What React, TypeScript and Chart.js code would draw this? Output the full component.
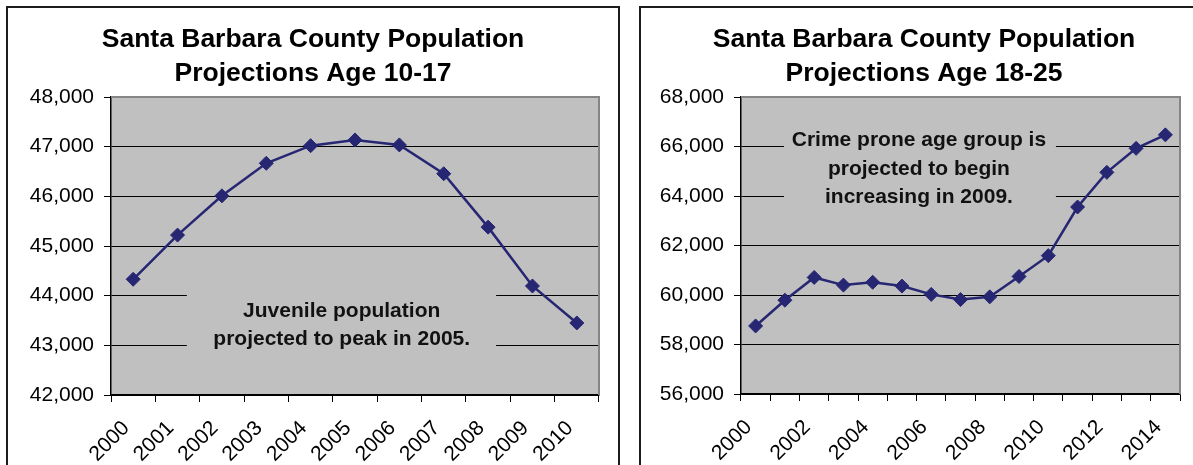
import { useEffect, useRef } from "react";
import { Chart, registerables } from "chart.js";

Chart.register(...registerables);

// ---- Data -----------------------------------------------------------------
const juvenileYears = ["2000", "2001", "2002", "2003", "2004", "2005", "2006", "2007", "2008", "2009", "2010"];
const juvenilePopulation = [44330, 45220, 46010, 46665, 47020, 47135, 47035, 46455, 45380, 44195, 43450];

const youngAdultYears = [
  "2000", "2001", "2002", "2003", "2004", "2005", "2006", "2007",
  "2008", "2009", "2010", "2011", "2012", "2013", "2014",
];
const youngAdultPopulation = [
  58750, 59790, 60710, 60400, 60515, 60360, 60025, 59815,
  59925, 60750, 61590, 63555, 64955, 65925, 66470,
];

const juvenileTitle = ["Santa Barbara County Population", "Projections Age 10-17"];
const youngAdultTitle = ["Santa Barbara County Population", "Projections Age 18-25"];

const juvenileNoteText = ["Juvenile population", "projected to peak in 2005."];
const youngAdultNoteText = ["Crime prone age group is", "projected to begin", "increasing in 2009."];

// ---- Styling ----------------------------------------------------------------
const FONT = "'Liberation Sans', Arial, sans-serif";
const LINE_COLOR = "#262673";
const PLOT_FILL = "#c0c0c0";

type Note = {
  lines: string[];
  center: number; // category index of the text centre
  lineValues: number[]; // y value of each text line
  from: number;
  to: number;
  top: number;
  bottom: number;
};

const juvenileNote: Note = {
  lines: juvenileNoteText,
  center: 4.7,
  lineValues: [43680, 43115],
  from: 1.21,
  to: 8.18,
  top: 44400,
  bottom: 42600,
};

const youngAdultNote: Note = {
  lines: youngAdultNoteText,
  center: 5.58,
  lineValues: [66250, 65100, 63960],
  from: 0.97,
  to: 10.26,
  top: 66800,
  bottom: 63300,
};

// Plot background, grey frame on top/right and the text box over the grid.
const plotDecor = {
  id: "plotDecor",
  beforeDraw(chart: any) {
    const { ctx, chartArea: a } = chart;
    ctx.save();
    ctx.fillStyle = PLOT_FILL;
    ctx.fillRect(a.left, a.top, a.right - a.left, a.bottom - a.top);
    ctx.restore();
  },
  beforeDatasetsDraw(chart: any, _args: any, opts: any) {
    const { ctx, chartArea: a, scales } = chart;
    const x = scales.x;
    const y = scales.y;
    const note: Note | undefined = opts.note;
    ctx.save();
    // grey frame
    ctx.strokeStyle = "#858585";
    ctx.lineWidth = 2;
    ctx.beginPath();
    ctx.moveTo(a.left, a.top);
    ctx.lineTo(a.right, a.top);
    ctx.lineTo(a.right, a.bottom);
    ctx.stroke();
    if (note) {
      const x0 = x.getPixelForValue(note.from);
      const x1 = x.getPixelForValue(note.to);
      const y0 = y.getPixelForValue(note.top);
      const y1 = y.getPixelForValue(note.bottom);
      ctx.fillStyle = PLOT_FILL;
      ctx.fillRect(x0, y0, x1 - x0, y1 - y0);
      ctx.fillStyle = "#111";
      ctx.font = `bold 21px ${FONT}`;
      ctx.textAlign = "center";
      ctx.textBaseline = "middle";
      const cx = x.getPixelForValue(note.center);
      note.lines.forEach((line, i) => {
        ctx.fillText(line, cx, y.getPixelForValue(note.lineValues[i]));
      });
    }
    ctx.restore();
  },
};

type ChartProps = {
  left: number;
  width: number;
  title: string[];
  labels: string[];
  values: number[];
  yMin: number;
  yMax: number;
  yStep: number;
  labelEvery: number;
  yAxisWidth: number;
  xAxisHeight: number;
  padRight: number;
  note: Note;
};

function PopulationChart(p: ChartProps) {
  const ref = useRef<HTMLCanvasElement | null>(null);

  useEffect(() => {
    if (!ref.current) return;
    const chart = new Chart(ref.current, {
      type: "line",
      data: {
        labels: p.labels,
        datasets: [
          {
            data: p.values,
            yAxisID: "y",
            borderColor: LINE_COLOR,
            borderWidth: 2.5,
            backgroundColor: LINE_COLOR,
            pointStyle: "rectRot",
            pointRadius: 7,
            pointBackgroundColor: LINE_COLOR,
            pointBorderColor: LINE_COLOR,
            pointBorderWidth: 1,
            tension: 0,
            fill: false,
            clip: false,
          },
        ],
      },
      plugins: [plotDecor],
      options: {
        animation: false,
        responsive: false,
        devicePixelRatio: 1,
        layout: { padding: 0 },
        plugins: {
          legend: { display: false },
          tooltip: { enabled: false },
          title: {
            display: true,
            text: p.title,
            color: "#000",
            font: { family: FONT, size: 26.5, weight: "bold", lineHeight: "34px" },
            padding: { top: 15, bottom: 6 },
          },
          plotDecor: { note: p.note },
        } as any,
        scales: {
          x: {
            type: "category",
            offset: true,
            grid: {
              offset: true,
              drawOnChartArea: false,
              drawTicks: true,
              tickLength: 7,
              color: "#000",
              lineWidth: 1,
            },
            border: { display: true, color: "#000", width: 1.5 },
            ticks: {
              autoSkip: false,
              maxRotation: 45,
              minRotation: 45,
              color: "#000",
              padding: 14,
              labelOffset: -7,
              font: { family: FONT, size: 21 },
              callback: (_v: any, i: number) => (i % p.labelEvery === 0 ? p.labels[i] : ""),
            },
            afterFit: (s: any) => {
              s.height = p.xAxisHeight;
            },
          },
          y: {
            min: p.yMin,
            max: p.yMax,
            grid: {
              color: "#000",
              lineWidth: 1,
              drawTicks: true,
              tickLength: 7,
            },
            border: { display: true, color: "#000", width: 1.5 },
            ticks: {
              stepSize: p.yStep,
              color: "#000",
              padding: 10,
              font: { family: FONT, size: 21 },
              callback: (v: any) => Number(v).toLocaleString("en-US"),
            },
            afterFit: (s: any) => {
              s.width = p.yAxisWidth;
            },
          },
          // empty strip on the right so the title stays centred on the frame
          gutter: {
            type: "linear",
            position: "right",
            display: true,
            grid: { display: false, drawTicks: false },
            border: { display: false },
            ticks: { display: false },
            afterFit: (s: any) => {
              s.width = p.padRight;
            },
          },
        },
      } as any,
    });
    return () => chart.destroy();
  }, []);

  return (
    <canvas
      ref={ref}
      width={p.width}
      height={457}
      style={{ position: "absolute", left: p.left, top: 8, width: p.width, height: 457 }}
    />
  );
}

export default function App() {
  return (
    <div
      style={{
        position: "fixed",
        left: 0,
        top: 0,
        width: 1193,
        height: 465,
        overflow: "hidden",
        background: "#fff",
      }}
    >
      <div
        style={{
          position: "absolute",
          left: 6,
          top: 6,
          width: 614,
          height: 500,
          border: "2px solid #1c1c1c",
          boxSizing: "border-box",
        }}
      />
      <div
        style={{
          position: "absolute",
          left: 639,
          top: 6,
          width: 620,
          height: 500,
          border: "2px solid #1c1c1c",
          boxSizing: "border-box",
        }}
      />
      <PopulationChart
        left={8}
        width={610}
        title={juvenileTitle}
        labels={juvenileYears}
        values={juvenilePopulation}
        yMin={42000}
        yMax={48000}
        yStep={1000}
        labelEvery={1}
        yAxisWidth={103}
        xAxisHeight={70}
        padRight={19}
        note={juvenileNote}
      />
      <PopulationChart
        left={641}
        width={566}
        title={youngAdultTitle}
        labels={youngAdultYears}
        values={youngAdultPopulation}
        yMin={56000}
        yMax={68000}
        yStep={2000}
        labelEvery={2}
        yAxisWidth={100}
        xAxisHeight={71}
        padRight={27}
        note={youngAdultNote}
      />
    </div>
  );
}
